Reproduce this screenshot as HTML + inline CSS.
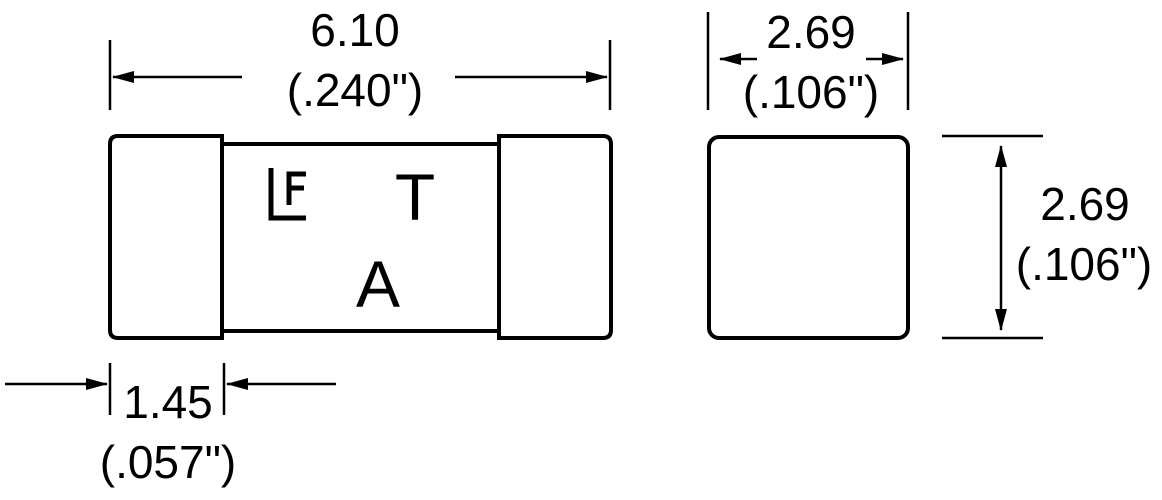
<!DOCTYPE html>
<html><head><style>body{margin:0;background:#fff}</style></head><body>
<svg width="1162" height="495" viewBox="0 0 1162 495" xmlns="http://www.w3.org/2000/svg" font-family="Liberation Sans, sans-serif" fill="none" stroke="#000">
<defs>
<marker id="ar" markerWidth="22" markerHeight="12" refX="21" refY="6" orient="auto" markerUnits="userSpaceOnUse"><path d="M0,0 L22,6 L0,12 Z" fill="#000" stroke="none"/></marker>
</defs>
<g stroke-width="4">
<path d="M222,136 H118 Q110,136 110,144 V330 Q110,338 118,338 H222 Z"/>
<path d="M499,136 H603 Q611,136 611,144 V330 Q611,338 603,338 H499 Z"/>
<path d="M222,144 H499 M222,331 H499"/>
<rect x="709" y="137" width="199" height="201" rx="10"/>
</g>
<g stroke-width="2.5">
<path d="M110,40 V110 M610,40 V110"/>
<line x1="242" y1="77" x2="113" y2="77" marker-end="url(#ar)"/>
<line x1="455" y1="77" x2="607" y2="77" marker-end="url(#ar)"/>
<path d="M110,363 V415 M224,363 V415"/>
<line x1="5" y1="384" x2="107" y2="384" marker-end="url(#ar)"/>
<line x1="336" y1="384" x2="227" y2="384" marker-end="url(#ar)"/>
<path d="M708,12 V110 M908,12 V110"/>
<line x1="757" y1="59" x2="720" y2="59" marker-end="url(#ar)"/>
<line x1="866" y1="59" x2="903" y2="59" marker-end="url(#ar)"/>
<path d="M942,136 H1043 M942,338 H1043"/>
<line x1="1001" y1="240" x2="1001" y2="146" marker-end="url(#ar)"/>
<line x1="1001" y1="240" x2="1001" y2="330" marker-end="url(#ar)"/>
</g>
<path d="M271,168 V218 H306 M289,205 V174 H306 M289,188 H304" stroke-width="5"/>
<g fill="#000" stroke="none" font-size="46" text-anchor="middle">
<text x="355" y="46">6.10</text>
<text x="355" y="106">(.240")</text>
<text x="168" y="418">1.45</text>
<text x="168" y="478">(.057")</text>
<text x="811" y="48">2.69</text>
<text x="811" y="108">(.106")</text>
<text x="1085" y="220">2.69</text>
<text x="1084" y="280">(.106")</text>
<text x="415" y="220" font-size="66">T</text>
<text x="378" y="307" font-size="66">A</text>
</g>
</svg>
</body></html>
